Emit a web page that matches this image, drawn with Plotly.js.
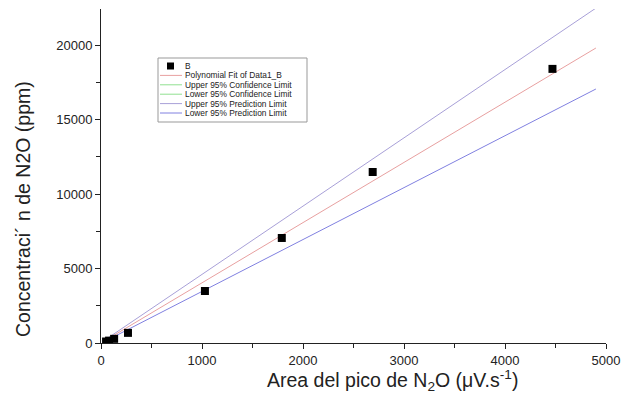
<!DOCTYPE html>
<html><head><meta charset="utf-8">
<script src="https://cdn.plot.ly/plotly-3.0.1.min.js"></script>
<style>html,body{margin:0;padding:0;background:#fff}</style>
</head><body><div id="chart" style="width:626px;height:398px"></div>
<script>
// Measured data (B)
var dataX = [50, 80, 130, 267, 1029, 1790, 2690, 4470];
var dataY = [100, 160, 280, 680, 3490, 7050, 11480, 18400];
// Fit and limit lines (read at both ends)
var lineX = [30, 4900];
var fitY = [120, 19800];
var upperPredY = [160, 22480];
var lowerPredY = [80, 17050];
// Legend labels and colours
var legendNames = ['B', 'Polynomial Fit of Data1_B', 'Upper 95% Confidence Limit', 'Lower 95% Confidence Limit',
                   'Upper 95% Prediction Limit', 'Lower 95% Prediction Limit'];
var legendColors = ['#000000', '#e8a0a0', '#90e090', '#90e090', '#a8a0d8', '#8080e0'];

var fontFam = 'Liberation Sans, Arial, sans-serif';
var traces = [
  {x: lineX, y: fitY, mode: 'lines', name: legendNames[1], line: {color: legendColors[1], width: 1}},
  {x: lineX, y: upperPredY, mode: 'lines', name: legendNames[4], line: {color: legendColors[4], width: 1}},
  {x: lineX, y: lowerPredY, mode: 'lines', name: legendNames[5], line: {color: legendColors[5], width: 1}},
  {x: dataX, y: dataY, mode: 'markers', name: legendNames[0], marker: {symbol: 'square', size: 8, color: '#000'}}
];

// custom compact legend (pixel geometry of plot area: x 101..606, y 9..343)
var PL = 101, PW = 505, PT = 9, PH = 334;
function px(x) { return (x - PL) / PW; }
function py(y) { return (PT + PH - y) / PH; }
var shapes = [{type: 'rect', xref: 'paper', yref: 'paper', x0: px(158), x1: px(307), y0: py(58), y1: py(122),
               line: {color: '#999', width: 1}, fillcolor: '#fff', layer: 'above'}];
var annotations = [];
var rowTop = 66, rowStep = 9.4;
for (var i = 0; i < legendNames.length; i++) {
  var yc = rowTop + i * rowStep;
  if (i === 0) {
    shapes.push({type: 'rect', xref: 'paper', yref: 'paper', x0: px(167), x1: px(174), y0: py(yc - 3.5), y1: py(yc + 3.5),
                 line: {width: 0}, fillcolor: '#000', layer: 'above'});
  } else {
    shapes.push({type: 'line', xref: 'paper', yref: 'paper', x0: px(160), x1: px(182), y0: py(yc), y1: py(yc),
                 line: {color: legendColors[i], width: 1}, layer: 'above'});
  }
  annotations.push({xref: 'paper', yref: 'paper', x: px(183), y: py(yc), xanchor: 'left', yanchor: 'middle',
                    showarrow: false, text: legendNames[i], font: {size: 8.4, family: fontFam, color: '#222'}});
}
annotations.push({xref: 'paper', yref: 'paper', x: px(392), y: py(380), xanchor: 'center', yanchor: 'middle', showarrow: false,
   text: 'Area del pico de N<sub>2</sub>O (\u03bcV.s<sup>-1</sup>)', font: {size: 19.5, family: fontFam, color: '#222'}});
annotations.push({xref: 'paper', yref: 'paper', x: px(23), y: py(209), xanchor: 'center', yanchor: 'middle', showarrow: false, textangle: -90,
   text: 'Concentraci\u00b4 n de N2O (ppm)', font: {size: 19.5, family: fontFam, color: '#222'}});

var layout = {
  width: 626, height: 398,
  margin: {l: PL, r: 626 - PL - PW, t: PT, b: 398 - PT - PH},
  paper_bgcolor: '#fff', plot_bgcolor: '#fff',
  font: {family: fontFam, color: '#222'},
  showlegend: false,
  xaxis: {range: [0, 5000], showgrid: false, zeroline: false, showline: true, linecolor: '#222', linewidth: 1,
          ticks: 'outside', ticklen: 5, tickcolor: '#222', dtick: 1000, tick0: 0, tickfont: {size: 13}, tickformat: 'd',
          minor: {ticks: 'outside', ticklen: 4, dtick: 500, tick0: 0, tickcolor: '#222', showgrid: false}},
  yaxis: {range: [0, 22420], showgrid: false, zeroline: false, showline: true, linecolor: '#222', linewidth: 1,
          ticks: 'outside', ticklen: 5, tickcolor: '#222', dtick: 5000, tick0: 0, tickfont: {size: 13}, tickformat: 'd',
          minor: {ticks: 'outside', ticklen: 4, dtick: 2500, tick0: 0, tickcolor: '#222', showgrid: false}},
  shapes: shapes,
  annotations: annotations
};
Plotly.newPlot('chart', traces, layout, {displayModeBar: false, staticPlot: true});
</script></body></html>
